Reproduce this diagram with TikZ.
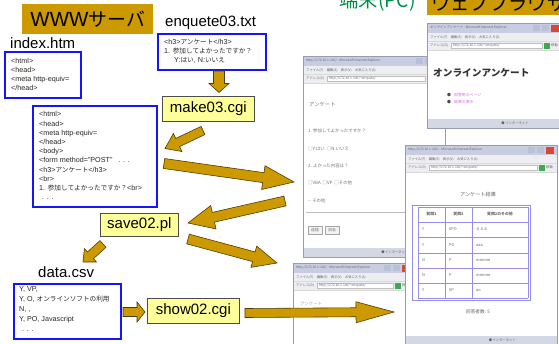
\documentclass[tikz,border=0pt]{standalone}
\usepackage{fontspec}
\setmainfont{Liberation Sans}
\newfontfamily\jp[Scale=0.92]{Noto Sans CJK JP}
\usetikzlibrary{calc}
\definecolor{gold}{RGB}{204,153,0}
\definecolor{goldline}{RGB}{80,60,0}
\definecolor{paleyellow}{RGB}{255,255,153}
\definecolor{codeblue}{RGB}{20,20,255}
\definecolor{grn}{RGB}{0,140,70}
\definecolor{wtitlec}{RGB}{200,205,226}
\definecolor{wbarc}{RGB}{238,238,242}
\definecolor{wstatc}{RGB}{212,216,228}
\definecolor{wbordc}{RGB}{150,156,180}
\definecolor{wgoc}{RGB}{60,170,80}
\definecolor{wclosec}{RGB}{220,70,50}
\definecolor{wbtnc}{RGB}{186,192,214}
\definecolor{tlinec}{RGB}{150,140,235}
\definecolor{linkc}{RGB}{210,110,210}

% fat block arrow between two named coordinates
\newcommand\fatarrow[5]{%
  \path let \p1=(#1), \p2=(#2), \n1={atan2(\y2-\y1,\x2-\x1)}, \n2={veclen(\x2-\x1,\y2-\y1)} in
    \pgfextra{\xdef\faang{\n1}\xdef\falen{\n2}};
  \begin{scope}[shift={(#1)}, rotate=\faang]
    \draw[fat] (0,-#3) -- (\falen-#5,-#3) -- (\falen-#5,-#4) -- (\falen,0)
      -- (\falen-#5,#4) -- (\falen-#5,#3) -- (0,#3) -- cycle;
  \end{scope}}

% browser window chrome: name, x, y, w, h, title
\newcommand\browserwin[6]{%
  \node[winframe, minimum width=#4pt, minimum height=#5pt] (#1) at (#2,#3) {};
  \fill[wtitlec] (#2,#3) rectangle (#2+#4,#3+10);
  \node[wtext, anchor=west] (#1-title) at (#2+3,#3+5) {#6};
  \fill[wbtnc] (#2+#4-29,#3+2) rectangle (#2+#4-22,#3+8);
  \fill[wbtnc] (#2+#4-20,#3+2) rectangle (#2+#4-13,#3+8);
  \fill[wclosec] (#2+#4-11,#3+1.5) rectangle (#2+#4-3,#3+8.5);
  \fill[wbarc] (#2,#3+10) rectangle (#2+#4,#3+27);
  \draw[black!15, line width=0.3pt] (#2,#3+18.5) -- (#2+#4,#3+18.5);
  \draw[black!15, line width=0.3pt] (#2,#3+27) -- (#2+#4,#3+27);
  \node[wtext, anchor=west] (#1-menu) at (#2+3,#3+14.2) {ファイル(F)\quad 編集(E)\quad 表示(V)\quad お気に入り(A)};
  \node[wtext, anchor=west] (#1-addr) at (#2+3,#3+22.7) {アドレス(D)};
  \draw[fill=white, draw=black!25, line width=0.3pt] (#2+24,#3+20) rectangle (#2+#4-20,#3+25.5);
  \node[wtext, anchor=west] (#1-url) at (#2+26,#3+22.7) {http://172.16.1.100/\textasciitilde enquete/};
  \fill[wgoc] (#2+#4-18,#3+19.5) rectangle (#2+#4-12,#3+26);
  \node[wtext, anchor=west] (#1-go) at (#2+#4-11,#3+22.7) {移動};
  \fill[wstatc] (#2,#3+#5-9) rectangle (#2+#4,#3+#5);
  \node[wtext, anchor=west] (#1-status) at (#2+#4*0.55,#3+#5-4.5) {●\,インターネット};
  \draw[wbordc, line width=0.6pt] (#1.north west) rectangle (#1.south east);
}

\begin{document}
\begin{tikzpicture}[x=1pt,y=-1pt,
  hdr/.style={fill=gold, inner sep=0pt, anchor=north west},
  codebox/.style={draw=codeblue, line width=1.6pt, fill=white, inner sep=0pt, anchor=north west},
  codetext/.style={anchor=north west, inner sep=0pt, align=left, text=black!85,
     font=\fontsize{7.2}{9.2}\selectfont},
  flabel/.style={anchor=base west, inner sep=0pt, font=\fontsize{15}{15}\selectfont},
  prog/.style={fill=paleyellow, draw=black!70, line width=0.7pt, inner sep=0pt,
     anchor=north west, font=\fontsize{15}{15}\selectfont},
  fat/.style={fill=gold, draw=goldline, line width=0.6pt, line join=miter},
  winframe/.style={anchor=north west, fill=white, inner sep=0pt, draw=none},
  wtext/.style={inner sep=0pt, font=\jp\fontsize{3.6}{4}\selectfont, text=black!60},
  ftext/.style={anchor=west, inner sep=0pt, font=\jp\fontsize{4.8}{5}\selectfont, text=black!55},
  ttext/.style={inner sep=0pt, font=\jp\fontsize{4.2}{5}\selectfont, text=black!60},
  tline/.style={draw=tlinec, line width=0.8pt}]
\useasboundingbox (0,0) rectangle (559,343);
\clip (0,0) rectangle (559,343);

% ---------- headings ----------
\node[anchor=base east, inner sep=0pt, text=grn, font=\jp\fontsize{21}{21}\selectfont] (clienthdr) at (416,7) {端末(PC)};
\node[hdr, minimum width=131pt, minimum height=30pt, font=\fontsize{20.5}{20}\selectfont] (server) at (22,4) {WWW{\jp サーバ}};
\node[hdr, minimum width=140pt, minimum height=36pt] (browserhdr) at (427,-21) {};
\node[anchor=west, inner sep=0pt, font=\jp\fontsize{21}{21}\selectfont] (browsertxt) at (431,3) {ウェブブラウザ};

% ---------- browser windows ----------
\browserwin{fm}{303}{56}{142}{201}{http://172.16.1.100/ - Microsoft Internet Explorer}
\node[ftext, font=\jp\fontsize{5.8}{6}\selectfont] (fm-h) at (309,104) {アンケート};
\node[ftext] (fm-q1) at (308,131) {1. 参加してよかったですか？};
\node[ftext] (fm-a1) at (308,149) {○Y:はい\ \ ○N:いいえ};
\node[ftext] (fm-q2) at (308,166) {2. よかった内容は？};
\node[ftext] (fm-a2) at (308,183) {□VBA\ \ □VP\ \ □その他};
\node[ftext] (fm-a3) at (308,201) {-- その他};
\draw[black!25, line width=0.4pt] (306,212) -- (440,212);
\draw[black!35, fill=black!5, line width=0.4pt] (308,226) rectangle (322,234);
\draw[black!35, fill=black!5, line width=0.4pt] (325,226) rectangle (339,234);
\node[ttext] (fm-send) at (315,230) {送信};
\node[ttext] (fm-clear) at (332,230) {消去};

\browserwin{tr}{427}{23}{135}{105}{オンラインアンケート - Microsoft Internet Explorer}
\node[anchor=west, inner sep=0pt, text=black!80, font=\jp\bfseries\fontsize{10.5}{11}\selectfont] (tr-h) at (433,73) {オンラインアンケート};
\node[ttext, text=black!70] (tr-b1) at (449,95) {●};
\node[ttext, text=black!70] (tr-b2) at (449,102) {●};
\node[ttext, anchor=west, text=linkc] (tr-l1) at (454,95) {回答用のページ};
\node[ttext, anchor=west, text=linkc] (tr-l2) at (454,102) {結果の表示};

\browserwin{bl}{293}{263}{120}{96}{http://172.16.1.100/ - Microsoft Internet Explorer}
\node[ftext, text=black!35] (bl-h) at (300,304) {アンケート};

\browserwin{rs}{405}{145}{152}{200}{http://172.16.1.100/ - Microsoft Internet Explorer}
\node[ttext, font=\jp\fontsize{5.6}{6}\selectfont] (rs-h) at (478,195) {アンケート結果};
\draw[tline] (412,205) rectangle (530,300);
\foreach \yy in {207,222,237,253,268,283,298} \draw[tline] (418,\yy) -- (528,\yy);
\foreach \xx in {418,445,472,528} \draw[tline] (\xx,207) -- (\xx,298);
\node[ttext, font=\jp\bfseries\fontsize{4.2}{5}\selectfont] (rs-h1) at (431.5,214.5) {質問1};
\node[ttext, font=\jp\bfseries\fontsize{4.2}{5}\selectfont] (rs-h2) at (458.5,214.5) {質問2};
\node[ttext, font=\jp\bfseries\fontsize{4.2}{5}\selectfont] (rs-h3) at (500,214.5) {質問2のその他};
\foreach \i/\yy/\a/\b/\c in {1/229.5/Y/VPO/えええ, 2/245/Y/PO/aaa, 3/260.5/N/P/mmmm, 4/275.5/N/P/mmmm, 5/290.5/Y/VP/ao} {
  \node[ttext, anchor=west] (rs-a\i) at (422,\yy) {\a};
  \node[ttext, anchor=west] (rs-b\i) at (449,\yy) {\b};
  \node[ttext, anchor=west] (rs-c\i) at (476,\yy) {\c};
}
\node[ttext, font=\jp\fontsize{5}{6}\selectfont] (rs-n) at (478,312) {回答者数: 5};

% ---------- server side files ----------
\node[flabel] (indexlbl) at (10,48) {index.htm};
\node[codebox, minimum width=76pt, minimum height=46pt] (index) at (4,51) {};
\node[codetext, font=\fontsize{7.2}{9}\selectfont] (indextxt) at (11,58.5) {<html>\\<head>\\<meta http-equiv=\\</head>};

\node[flabel] (enqlbl) at (165,26.5) {enquete03.txt};
\node[codebox, minimum width=108pt, minimum height=36pt] (enq) at (157,33) {};
\node[codetext, font=\fontsize{7.2}{9}\selectfont] (enqtxt) at (164,39.5) {<h3>{\jp アンケート}</h3>\\1. {\jp 参加してよかったですか？}\\\hspace*{10pt}Y:{\jp はい}, N:{\jp いいえ}};

\node[prog, minimum width=92pt, minimum height=25pt] (make) at (162,96) {make03.cgi};

\node[codebox, minimum width=124pt, minimum height=101pt] (html) at (32,105) {};
\node[codetext] (htmltxt) at (39,111.5) {<html>\\<head>\\<meta http-equiv=\\</head>\\<body>\\<form method="POST"\ \ \ . . .\\<h3>{\jp アンケート}</h3>\\<br>\\1. {\jp 参加してよかったですか？}<br>\\\hspace*{3pt}. . .};

\node[prog, minimum width=78pt, minimum height=23pt] (save) at (100,213) {save02.pl};

\node[flabel] (datalbl) at (38,277) {data.csv};
\node[codebox, minimum width=107pt, minimum height=55pt] (data) at (13,283) {};
\node[codetext, font=\fontsize{7.2}{10}\selectfont] (datatxt) at (19,286.5) {Y, VP,\\Y, O, {\jp オンラインソフトの利用}\\N, ,\\Y, PO, Javascript\\\hspace*{3pt}. . .};

\node[prog, minimum width=92pt, minimum height=25pt] (show) at (147,298) {show02.cgi};

% ---------- arrow end points ----------
\coordinate (enqout) at (219,71);
\coordinate (makein) at (219,92.5);
\coordinate (makeout) at (203,130.5);
\coordinate (htmlin) at (165,148.5);
\coordinate (htmlout) at (164,163.5);
\coordinate (fmin) at (294,182);
\coordinate (fmout) at (285,201);
\coordinate (savein) at (188,223);
\coordinate (saveout) at (188,239);
\coordinate (blin) at (277,263);
\coordinate (saveout2) at (103,244);
\coordinate (datain) at (83,262);
\coordinate (dataout) at (123,312);
\coordinate (showin) at (145,312);
\coordinate (showout) at (245,313);
\coordinate (rsin) at (394,312);

% ---------- fat arrows ----------
\fatarrow{enqout}{makein}{5.5}{10}{9}
\fatarrow{makeout}{htmlin}{4.5}{10}{14}
\fatarrow{htmlout}{fmin}{5}{12}{31}
\fatarrow{fmout}{savein}{5}{12}{26}
\fatarrow{saveout}{blin}{5}{11}{24}
\fatarrow{saveout2}{datain}{4.5}{9}{10}
\fatarrow{dataout}{showin}{4.5}{10}{8}
\fatarrow{showout}{rsin}{4.5}{10.5}{38}
\end{tikzpicture}
\end{document}
